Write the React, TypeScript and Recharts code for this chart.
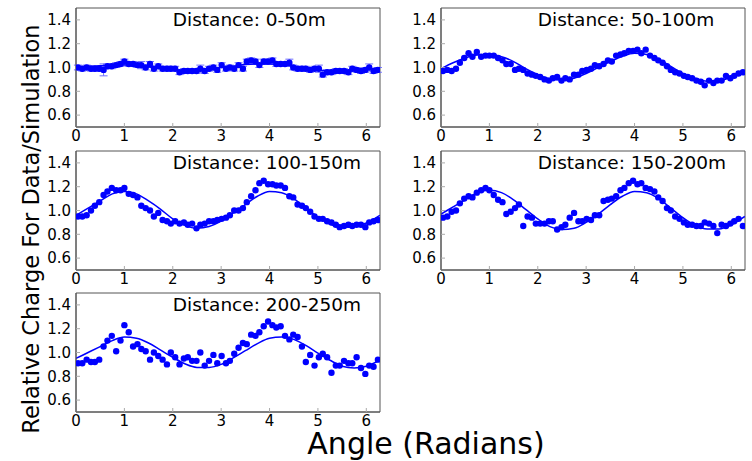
import React from 'react';
import {
  ComposedChart, Scatter, Line, XAxis, YAxis, ErrorBar, ReferenceDot, ReferenceArea
} from 'recharts';

// bin centres (5 degree bins), radians
const ANGLES = [
  0.04, 0.13, 0.22, 0.31, 0.39, 0.48, 0.57, 0.65, 0.74, 0.83, 0.92, 1.00,
  1.09, 1.18, 1.27, 1.35, 1.44, 1.53, 1.61, 1.70, 1.79, 1.88, 1.96, 2.05,
  2.14, 2.23, 2.31, 2.40, 2.49, 2.57, 2.66, 2.75, 2.84, 2.92, 3.01, 3.10,
  3.18, 3.27, 3.36, 3.45, 3.53, 3.62, 3.71, 3.79, 3.88, 3.97, 4.06, 4.14,
  4.23, 4.32, 4.41, 4.49, 4.58, 4.67, 4.75, 4.84, 4.93, 5.02, 5.10, 5.19,
  5.28, 5.37, 5.45, 5.54, 5.63, 5.71, 5.80, 5.89, 5.98, 6.06, 6.15, 6.24,
];

const D0_50 = [
  1.00, 0.99, 1.00, 0.99, 0.99, 0.99, 0.98, 1.01, 1.01, 1.02, 1.03, 1.05,
  1.03, 1.03, 1.02, 1.02, 1.00, 1.03, 0.99, 1.01, 0.99, 0.99, 0.99, 0.99,
  0.96, 0.97, 0.97, 0.97, 0.97, 0.99, 0.97, 0.99, 1.00, 0.98, 1.02, 0.99,
  1.00, 0.99, 1.02, 0.99, 1.05, 1.06, 1.05, 1.02, 1.05, 1.05, 1.06, 1.03,
  1.03, 1.03, 1.04, 1.00, 0.99, 0.99, 0.99, 0.98, 0.99, 0.99, 0.94, 0.96,
  0.96, 0.97, 0.97, 0.97, 0.96, 0.99, 0.98, 0.97, 0.98, 1.00, 0.97, 0.98,
];
const ERR0_50 = [
  0.02, 0.02, 0.02, 0.02, 0.02, 0.02, 0.05, 0.02, 0.02, 0.02, 0.02, 0.02,
  0.02, 0.02, 0.02, 0.03, 0.02, 0.02, 0.02, 0.02, 0.02, 0.02, 0.02, 0.02,
  0.02, 0.02, 0.02, 0.02, 0.02, 0.03, 0.02, 0.02, 0.02, 0.02, 0.02, 0.02,
  0.02, 0.02, 0.02, 0.02, 0.02, 0.02, 0.02, 0.02, 0.02, 0.02, 0.02, 0.02,
  0.02, 0.02, 0.03, 0.02, 0.02, 0.02, 0.02, 0.02, 0.02, 0.03, 0.02, 0.02,
  0.02, 0.02, 0.02, 0.02, 0.02, 0.02, 0.02, 0.02, 0.02, 0.03, 0.02, 0.02,
];
const D50_100 = [
  0.97, 0.98, 0.97, 0.99, 1.04, 1.08, 1.12, 1.09, 1.13, 1.09, 1.10, 1.10,
  1.10, 1.08, 1.06, 1.03, 1.03, 0.98, 0.99, 0.98, 0.95, 0.94, 0.93, 0.92,
  0.90, 0.89, 0.91, 0.92, 0.89, 0.91, 0.90, 0.94, 0.94, 0.97, 0.98, 0.99,
  1.02, 1.01, 1.03, 1.06, 1.05, 1.10, 1.11, 1.12, 1.14, 1.14, 1.15, 1.12,
  1.15, 1.10, 1.08, 1.06, 1.04, 1.01, 0.98, 0.96, 0.95, 0.93, 0.92, 0.91,
  0.89, 0.88, 0.85, 0.89, 0.87, 0.89, 0.89, 0.93, 0.91, 0.93, 0.95, 0.96,
];
const D100_150 = [
  0.95, 0.95, 0.96, 1.00, 1.04, 1.07, 1.13, 1.16, 1.19, 1.17, 1.17, 1.19,
  1.14, 1.13, 1.11, 1.04, 1.02, 1.00, 0.95, 0.98, 0.92, 0.91, 0.89, 0.91,
  0.89, 0.90, 0.88, 0.89, 0.85, 0.88, 0.89, 0.91, 0.91, 0.92, 0.93, 0.94,
  0.96, 1.00, 1.00, 1.02, 1.07, 1.12, 1.17, 1.23, 1.25, 1.22, 1.22, 1.21,
  1.21, 1.19, 1.12, 1.11, 1.05, 1.04, 1.02, 0.99, 0.95, 0.93, 0.93, 0.91,
  0.90, 0.88, 0.86, 0.87, 0.88, 0.87, 0.88, 0.88, 0.86, 0.90, 0.91, 0.92,
];
const D150_200 = [
  0.94, 0.95, 0.99, 1.00, 1.06, 1.10, 1.12, 1.11, 1.15, 1.17, 1.19, 1.17,
  1.13, 1.09, 1.07, 0.97, 0.99, 1.02, 1.05, 0.87, 0.95, 0.94, 0.89, 0.89,
  0.89, 0.91, 0.91, 0.84, 0.86, 0.88, 0.94, 0.98, 0.91, 0.91, 0.93, 0.92,
  0.96, 0.96, 1.08, 1.09, 1.10, 1.12, 1.17, 1.19, 1.23, 1.25, 1.22, 1.23,
  1.19, 1.18, 1.16, 1.11, 1.08, 1.02, 1.00, 0.95, 0.93, 0.90, 0.88, 0.88,
  0.87, 0.87, 0.90, 0.89, 0.87, 0.81, 0.88, 0.87, 0.89, 0.91, 0.93, 0.87,
];
const D200_250 = [
  0.91, 0.91, 0.94, 0.92, 0.92, 0.94, 1.05, 1.10, 1.14, 1.01, 1.10, 1.23,
  1.17, 1.05, 1.07, 1.03, 1.01, 0.94, 1.00, 0.97, 0.94, 0.90, 1.00, 0.96,
  0.90, 0.95, 0.96, 0.93, 0.93, 1.00, 0.89, 0.93, 0.98, 0.91, 0.97, 0.91,
  0.93, 0.99, 1.04, 1.08, 1.07, 1.15, 1.14, 1.17, 1.22, 1.26, 1.23, 1.21,
  1.22, 1.14, 1.11, 1.15, 1.13, 1.05, 0.92, 0.98, 0.89, 0.96, 0.99, 0.96,
  0.83, 0.89, 0.89, 0.93, 0.91, 0.91, 0.96, 0.87, 0.82, 0.89, 0.88, 0.94,
];

// fitted curves
const FIT_ANGLES = [
  0, 0.25, 0.5, 0.75, 1.0, 1.25, 1.5, 1.75, 2.0, 2.25, 2.5, 2.75, 3.0,
  3.25, 3.5, 3.75, 4.0, 4.25, 4.5, 4.75, 5.0, 5.25, 5.5, 5.75, 6.0, 6.28,
];
const FIT0_50 = [
  1.00, 1.01, 1.015, 1.02, 1.02, 1.015, 1.005, 0.99, 0.98, 0.975, 0.975, 0.985, 1.00,
  1.01, 1.025, 1.03, 1.03, 1.025, 1.01, 0.995, 0.98, 0.97, 0.97, 0.975, 0.985, 0.995,
];
const FIT50_100 = [
  0.99, 1.04, 1.08, 1.105, 1.11, 1.09, 1.05, 0.99, 0.94, 0.905, 0.895, 0.91, 0.95,
  1.00, 1.05, 1.095, 1.12, 1.11, 1.07, 1.01, 0.95, 0.91, 0.885, 0.89, 0.92, 0.97,
];
const FIT100_150 = [
  0.96, 1.02, 1.08, 1.14, 1.16, 1.14, 1.08, 1.01, 0.93, 0.875, 0.85, 0.865, 0.91,
  0.98, 1.05, 1.12, 1.16, 1.15, 1.10, 1.02, 0.945, 0.885, 0.86, 0.865, 0.895, 0.96,
];
const FIT150_200 = [
  0.97, 1.03, 1.09, 1.15, 1.17, 1.15, 1.09, 1.01, 0.93, 0.865, 0.84, 0.85, 0.90,
  0.97, 1.05, 1.12, 1.16, 1.15, 1.10, 1.02, 0.94, 0.875, 0.845, 0.845, 0.88, 0.95,
];
const FIT200_250 = [
  0.95, 1.00, 1.05, 1.10, 1.13, 1.12, 1.08, 1.02, 0.96, 0.905, 0.875, 0.875, 0.90,
  0.955, 1.015, 1.075, 1.12, 1.13, 1.11, 1.06, 0.995, 0.935, 0.885, 0.87, 0.885, 0.935,
];

const TITLES = ['Distance: 0-50m', 'Distance: 50-100m', 'Distance: 100-150m', 'Distance: 150-200m', 'Distance: 200-250m'];
const X_TICKS = [0, 1, 2, 3, 4, 5, 6];
const Y_TICKS = [0.6, 0.8, 1.0, 1.2, 1.4];

const BLUE = '#0000ff';
const FONT = '"DejaVu Sans", sans-serif';
const PW = 304;
const PH = 119;
const LEFT_W = 50;
const TOP_M = 8;
const BOTTOM_H = 28;
const X_MAX = 6.2832;

const PANELS = [
  { title: TITLES[0], values: D0_50, fit: FIT0_50, err: ERR0_50, left: 76, top: 8 },
  { title: TITLES[1], values: D50_100, fit: FIT50_100, left: 441, top: 8 },
  { title: TITLES[2], values: D100_150, fit: FIT100_150, left: 76, top: 151 },
  { title: TITLES[3], values: D150_200, fit: FIT150_200, left: 441, top: 151 },
  { title: TITLES[4], values: D200_250, fit: FIT200_250, left: 76, top: 293 },
];

const Dot = (props: any) => <circle cx={props.cx} cy={props.cy} r={3.2} fill={BLUE} />;

const tickStyle = { fontSize: 15, fill: '#000', fontFamily: FONT };

function Panel({ p }: { p: any }) {
  const points = ANGLES.map((a, i) => ({ angle: a, value: p.values[i], err: p.err ? p.err[i] : 0 }));
  const fit = FIT_ANGLES.map((a, i) => ({ angle: a, value: p.fit[i] }));
  return (
    <div style={{ position: 'absolute', left: p.left - LEFT_W, top: p.top - TOP_M }}>
      <ComposedChart
        width={LEFT_W + PW + 8}
        height={TOP_M + PH + BOTTOM_H}
        margin={{ top: TOP_M, right: 8, left: 0, bottom: 0 }}
      >
        <XAxis
          dataKey="angle" type="number" domain={[0, X_MAX]} ticks={X_TICKS}
          allowDataOverflow height={BOTTOM_H} tick={tickStyle}
          tickSize={-4} tickMargin={7}
          axisLine={{ stroke: '#555' }} tickLine={{ stroke: '#aaa' }}
        />
        <YAxis
          dataKey="value" type="number" domain={[0.5, 1.5]} ticks={Y_TICKS}
          allowDataOverflow width={LEFT_W} tick={tickStyle}
          tickFormatter={(v: number) => v.toFixed(1)}
          tickSize={-4} tickMargin={9}
          axisLine={{ stroke: '#555' }} tickLine={{ stroke: '#aaa' }}
        />
        <ReferenceArea
          x1={0} x2={X_MAX} y1={0.5} y2={1.5}
          fill="none" fillOpacity={0} stroke="#555" strokeWidth={1}
        />
        <Scatter data={points} dataKey="value" shape={Dot} isAnimationActive={false}>
          {p.err && (
            <ErrorBar dataKey="err" direction="y" width={4} stroke="#7070ff" strokeWidth={1} />
          )}
        </Scatter>
        <Line
          data={fit} dataKey="value" type="monotone"
          stroke={BLUE} strokeWidth={1.5} dot={false} activeDot={false}
          isAnimationActive={false}
        />
        <ReferenceDot
          x={2} y={1.4} r={0} stroke="none" fill="none"
          label={{ value: p.title, position: 'insideLeft', offset: 0, fontSize: 18.5, fill: '#000', fontFamily: FONT }}
        />
      </ComposedChart>
    </div>
  );
}

export default function App() {
  return (
    <div style={{ position: 'absolute', left: 0, top: 0, width: 752, height: 461, background: '#fff', fontFamily: FONT }}>
      {PANELS.map((p, i) => <Panel key={i} p={p} />)}
      <svg width={752} height={461} style={{ position: 'absolute', left: 0, top: 0, pointerEvents: 'none' }}>
        <text
          x={0} y={0} transform="translate(39 229) rotate(-90)" textAnchor="middle"
          fontSize={22.5} fontFamily={FONT} fill="#000"
        >
          Relative Charge For Data/Simulation
        </text>
        <text x={426} y={454} textAnchor="middle" fontSize={30} fontFamily={FONT} fill="#000">
          Angle (Radians)
        </text>
      </svg>
    </div>
  );
}
